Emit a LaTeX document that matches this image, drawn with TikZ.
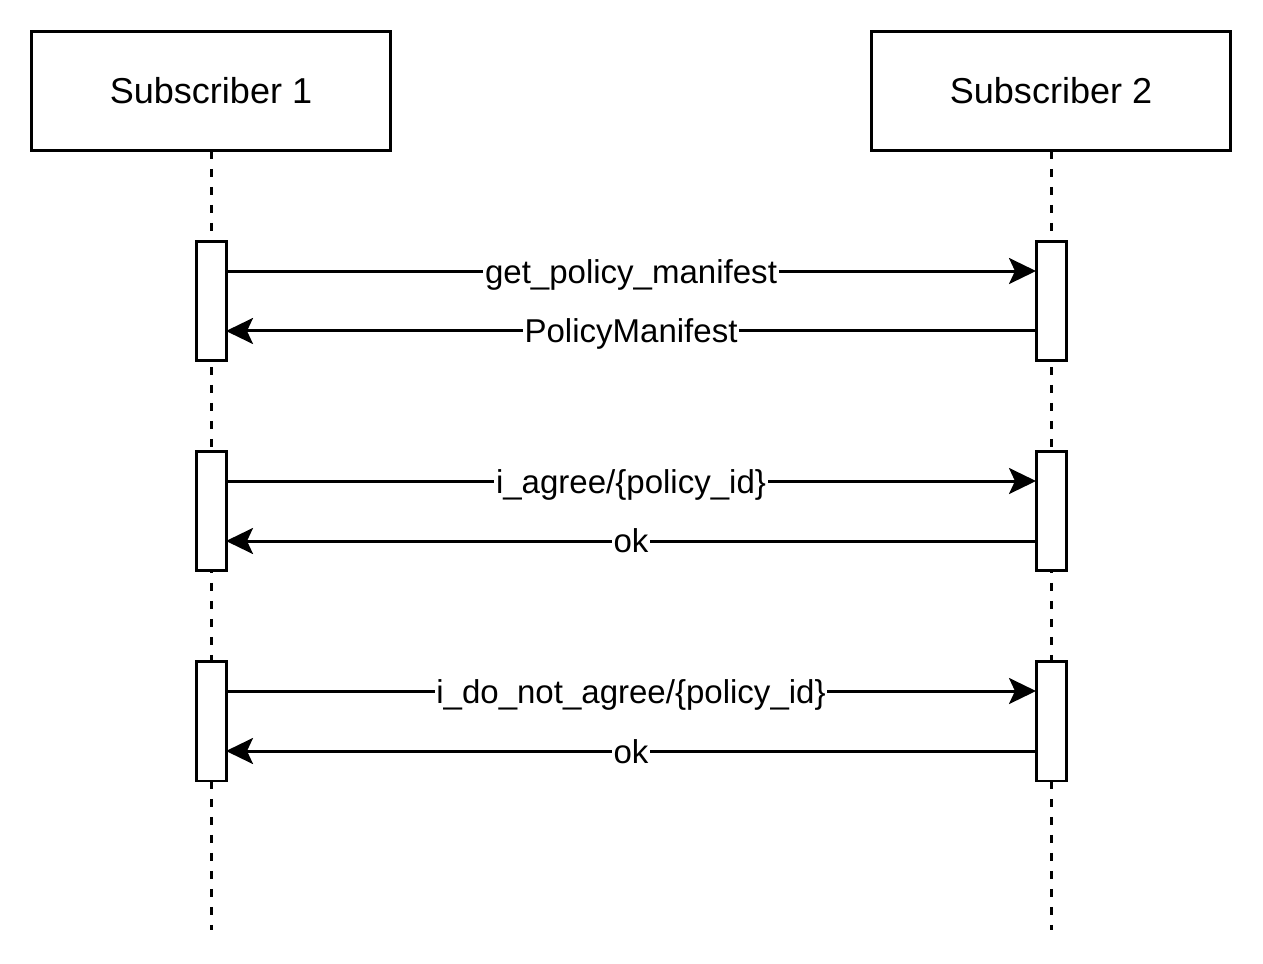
\documentclass[tikz,border=0pt]{standalone}
\usepackage{fontspec}
\setmainfont{Liberation Sans}
\usetikzlibrary{arrows.meta}

\tikzset{
  party/.style={draw, line width=0.06cm, minimum width=7.2cm, minimum height=2.4cm, inner sep=0pt, outer sep=0pt, font=\fontsize{20.5}{24}\selectfont},
  act/.style={draw, fill=white, line width=0.06cm, minimum width=0.6cm, minimum height=2.4cm, inner sep=0pt, outer sep=0pt},
  life/.style={line width=0.06cm, dash pattern=on 0.16cm off 0.2cm},
  msg/.style={line width=0.06cm, -{Stealth[length=0.54cm, width=0.52cm, inset=0.12cm]}},
  lbl/.style={midway, fill=white, inner xsep=1pt, inner ysep=0pt, text height=0.7cm, text depth=0.22cm, font=\fontsize{18.8}{22}\selectfont}
}

\begin{document}
\begin{tikzpicture}[x=0.02cm, y=-0.02cm]
\useasboundingbox (0,0) rectangle (1263,963);

\node[party] (Sub1) at (211,91) {Subscriber 1};
\node[party] (Sub2) at (1051,91) {Subscriber 2};

\coordinate (End1) at (211,930);
\coordinate (End2) at (1051,930);
\draw[life] (Sub1.south) -- (End1);
\draw[life] (Sub2.south) -- (End2);

\node[act] (A1) at (211,301) {};
\node[act] (B1) at (1051,301) {};
\node[act] (A2) at (211,511) {};
\node[act] (B2) at (1051,511) {};
\node[act] (A3) at (211,721) {};
\node[act] (B3) at (1051,721) {};

\draw[msg] ([yshift=-0.6cm]A1.north east) -- ([yshift=-0.6cm]B1.north west) node[lbl] {get\_policy\_manifest};
\draw[msg] ([yshift=0.6cm]B1.south west) -- ([yshift=0.6cm]A1.south east) node[lbl] {PolicyManifest};

\draw[msg] ([yshift=-0.6cm]A2.north east) -- ([yshift=-0.6cm]B2.north west) node[lbl] {i\_agree/\{policy\_id\}};
\draw[msg] ([yshift=0.6cm]B2.south west) -- ([yshift=0.6cm]A2.south east) node[lbl] {ok};

\draw[msg] ([yshift=-0.6cm]A3.north east) -- ([yshift=-0.6cm]B3.north west) node[lbl] {i\_do\_not\_agree/\{policy\_id\}};
\draw[msg] ([yshift=0.6cm]B3.south west) -- ([yshift=0.6cm]A3.south east) node[lbl] {ok};

\end{tikzpicture}
\end{document}
